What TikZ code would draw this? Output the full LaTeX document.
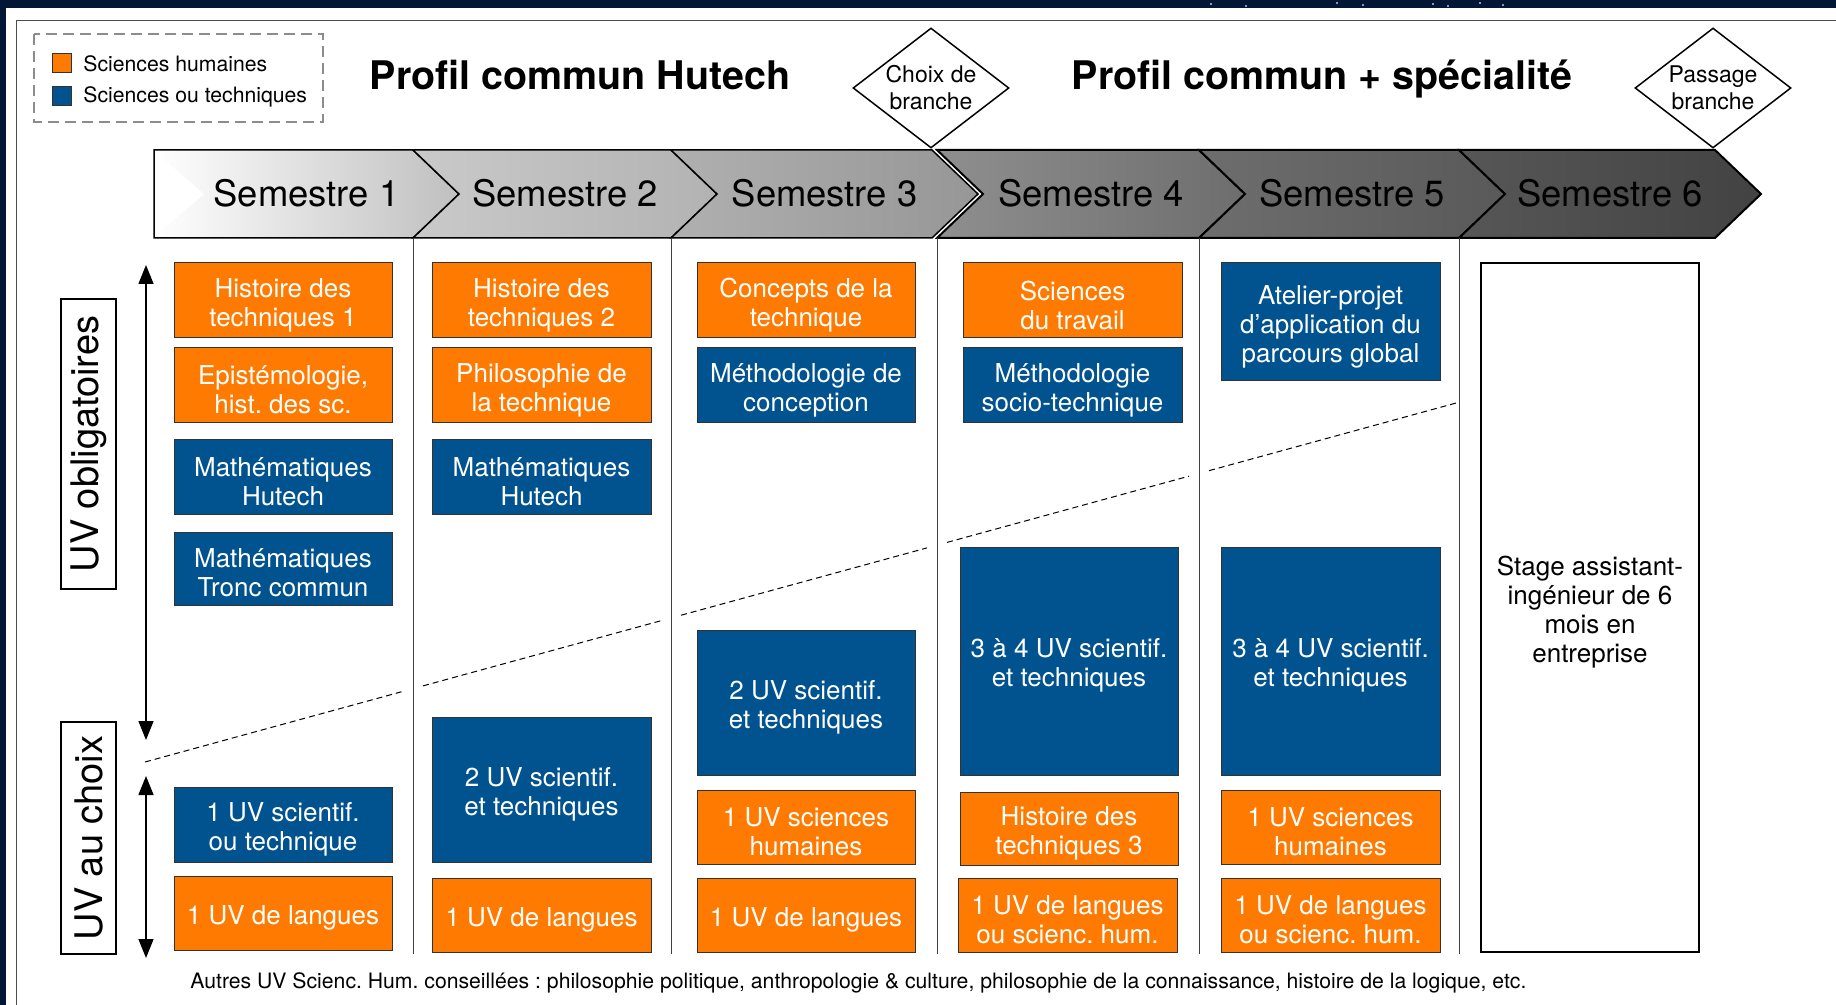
\documentclass[tikz,border=0pt]{standalone}
\usepackage{fontspec}
\setmainfont{TeX Gyre Heros}
\usetikzlibrary{positioning,arrows.meta,shapes.geometric}

\definecolor{hutorange}{HTML}{FF7A00}
\definecolor{hutblue}{HTML}{00538F}
\definecolor{navyframe}{HTML}{021735}

% box from its top left and bottom right corners (in px), text set a bit low
\newcommand{\uvbox}[7]{%
  \node[#1, anchor=north west, minimum width={(#5-#3)*0.5pt}, minimum height={(#6-#4)*0.5pt}] (#2) at (#3,#4) {};
  \node[#1, draw=none, fill=none, minimum width=0pt, minimum height=0pt] (#2text) at ([yshift=-2.3pt]#2.center) {#7};}

\begin{document}
\frenchspacing
\begin{tikzpicture}[
    x=0.5pt, y=-0.5pt,
    >={Triangle[width=7.5pt,length=9.5pt]},
    uvnode/.style={draw=black!80, line width=0.5pt, inner sep=0pt, outer sep=0pt, align=center, text=white,
      font=\fontsize{13}{14.5}\selectfont},
    humbox/.style={uvnode, fill=hutorange},
    techbox/.style={uvnode, fill=hutblue},
    stagebox/.style={uvnode, draw=black, line width=1pt, fill=white, text=black},
    semlabel/.style={inner sep=0pt, font=\fontsize{18.2}{20}\selectfont},
    titletext/.style={inner sep=0pt, font=\bfseries\fontsize{19.7}{22}\selectfont},
    legtext/.style={inner sep=0pt, font=\fontsize{10.6}{12}\selectfont},
    sidelabel/.style={draw, line width=0.75pt, inner sep=0pt, rotate=90, minimum height=27.5pt, font=\fontsize{19}{22}\selectfont},
    branchdiamond/.style={draw, shape=diamond, aspect=1.3, fill=white, line width=0.75pt, inner sep=0pt, minimum width=78pt, minimum height=60pt, align=center, font=\fontsize{11.5}{13.5}\selectfont}
  ]
    \useasboundingbox (0,0) rectangle (1836,1005);
    % screen frame
    \fill[navyframe] (0,0) rectangle (1836,1005);
    \fill[white] (6,8) rectangle (1836,1005);
    \foreach \x/\y in {1211/4, 1246/6, 1337/3, 1363/5, 1433/4, 1448/6, 1480/3, 1503/5}
      \fill[blue!25!white] (\x,\y) circle (0.6pt);
    \draw[black!70, line width=0.5pt] (16,1005) -- (16,21) -- (1836,21);

    % Legend
    \draw[black!45, line width=1pt, dash pattern=on 5.5pt off 3pt] (34,34) rectangle (323,122);
    \node[humbox, minimum size=9.5pt, anchor=north west] (leghum) at (52,54) {};
    \node[techbox, minimum size=9.5pt, anchor=north west] (legtech) at (52,87) {};
    \node[legtext, right=6pt of leghum] (leghumtext) {Sciences humaines};
    \node[legtext, right=6pt of legtech] (legtechtext) {Sciences ou techniques};

    % Titles and branch points
    \node[titletext, anchor=base] (tcommun) at (580,90) {Profil commun Hutech};
    \node[titletext, anchor=base] (tspec) at (1322,90) {Profil commun + spécialité};
    \node[branchdiamond] (choix) at (931,88) {Choix de\\branche};
    \node[branchdiamond] (passage) at (1713,88) {Passage\\branche};

    % Semesters
    \shade[left color=white, right color=black!25] (154,150) -- (413,150) -- (459,194) -- (413,238) -- (154,238) -- cycle;
    \fill[white] (154,151) -- (204,194) -- (154,237) -- cycle;
    \draw[line width=0.75pt] (154,150) -- (413,150) -- (459,194) -- (413,238) -- (154,238) -- cycle;
    \node[semlabel, anchor=base] (sem1) at (306.5,207) {Semestre 1};
    \foreach \l/\r/\cl/\cr/\lw/\n in {413/671/black!21/black!30/0.75/2, 671/932/black!31/black!41/0.75/3,
        937/1199/black!44/black!57/1/4, 1199/1459/black!57/black!65/1/5, 1459/1715/black!66/black!74/1/6} {
      \shadedraw[left color=\cl, right color=\cr, draw=black, line width=\lw pt]
        (\l,150) -- (\r,150) -- ({\r+46},194) -- (\r,238) -- (\l,238) -- ({\l+46},194) -- cycle;
      \node[semlabel, anchor=base] (sem\n) at ({(\l+\r+46)/2},207) {Semestre \n};
    }

    % Columns
    \foreach \x in {413,671,937,1199,1459}
      \draw[black!75, line width=0.5pt] (\x,238) -- (\x,954);

    % Side labels and arrows
    \node[sidelabel, minimum width=145pt] (oblig) at (88.5,444) {UV obligatoires};
    \node[sidelabel, minimum width=116pt] (auchoix) at (88.5,838) {UV au choix};
    \coordinate (obltop) at (146,265);
    \coordinate (oblbot) at (146,740);
    \coordinate (chxtop) at (146,776);
    \coordinate (chxbot) at (146,958);
    \draw[<->, line width=0.75pt] (obltop) -- (oblbot);
    \draw[<->, line width=0.75pt] (chxtop) -- (chxbot);
    \foreach \a/\b in {145/403, 423/661, 681/927, 947/1189, 1209/1459}
      \draw[line width=0.5pt, dash pattern=on 3pt off 2pt] (\a,{762-0.2738*(\a-145)}) -- (\b,{762-0.2738*(\b-145)});

    % Semestre 1
    \uvbox{humbox}{hist1}{174}{263}{392}{338}{Histoire des\\techniques 1}
    \uvbox{humbox}{epist1}{174}{348}{392}{423}{Epistémologie,\\hist. des sc.}
    \uvbox{techbox}{math1}{174}{440}{392}{514}{Mathématiques\\Hutech}
    \uvbox{techbox}{tronc1}{174}{532}{392}{605}{Mathématiques\\Tronc commun}
    \uvbox{techbox}{scien1}{174}{787}{392}{862}{1 UV scientif.\\ou technique}
    \uvbox{humbox}{lang1}{174}{876}{392}{950}{1 UV de langues}
    % Semestre 2
    \uvbox{humbox}{hist2}{432}{263}{651}{338}{Histoire des\\techniques 2}
    \uvbox{humbox}{philo2}{432}{348}{651}{423}{Philosophie de\\la technique}
    \uvbox{techbox}{math2}{432}{440}{651}{514}{Mathématiques\\Hutech}
    \uvbox{techbox}{scien2}{432}{717}{651}{862}{2 UV scientif.\\et techniques}
    \uvbox{humbox}{lang2}{432}{878}{651}{952}{1 UV de langues}
    % Semestre 3
    \uvbox{humbox}{conc3}{697}{263}{915}{338}{Concepts de la\\technique}
    \uvbox{techbox}{meth3}{697}{348}{915}{423}{Méthodologie de\\conception}
    \uvbox{techbox}{scien3}{697}{630}{915}{775}{2 UV scientif.\\et techniques}
    \uvbox{humbox}{hum3}{697}{790}{915}{864}{1 UV sciences\\humaines}
    \uvbox{humbox}{lang3}{697}{878}{915}{952}{1 UV de langues}
    % Semestre 4
    \uvbox{humbox}{trav4}{963}{263}{1182}{338}{Sciences\\du travail}
    \uvbox{techbox}{meth4}{963}{348}{1182}{423}{Méthodologie\\socio-technique}
    \uvbox{techbox}{scien4}{960}{547}{1178}{775}{3 à 4 UV scientif.\\et techniques}
    \uvbox{humbox}{hist4}{960}{792}{1178}{865}{Histoire des\\techniques 3}
    \uvbox{humbox}{lang4}{958}{878}{1177}{952}{1 UV de langues\\ou scienc. hum.}
    % Semestre 5
    \uvbox{techbox}{atel5}{1221}{263}{1440}{381}{Atelier-projet\\d’application du\\parcours global}
    \uvbox{techbox}{scien5}{1221}{547}{1440}{775}{3 à 4 UV scientif.\\et techniques}
    \uvbox{humbox}{hum5}{1221}{790}{1440}{864}{1 UV sciences\\humaines}
    \uvbox{humbox}{lang5}{1221}{878}{1440}{952}{1 UV de langues\\ou scienc. hum.}
    % Semestre 6
    \uvbox{stagebox}{stage}{1481}{263}{1699}{952}{Stage assistant-\\ingénieur de 6\\mois en\\entreprise}

    % Note
    \node[legtext, anchor=base west, font=\fontsize{10.6}{12}\selectfont] (note) at (190,988) {Autres UV Scienc. Hum. conseillées : philosophie politique, anthropologie \& culture, philosophie de la connaissance, histoire de la logique, etc.};
  \end{tikzpicture}
\end{document}
